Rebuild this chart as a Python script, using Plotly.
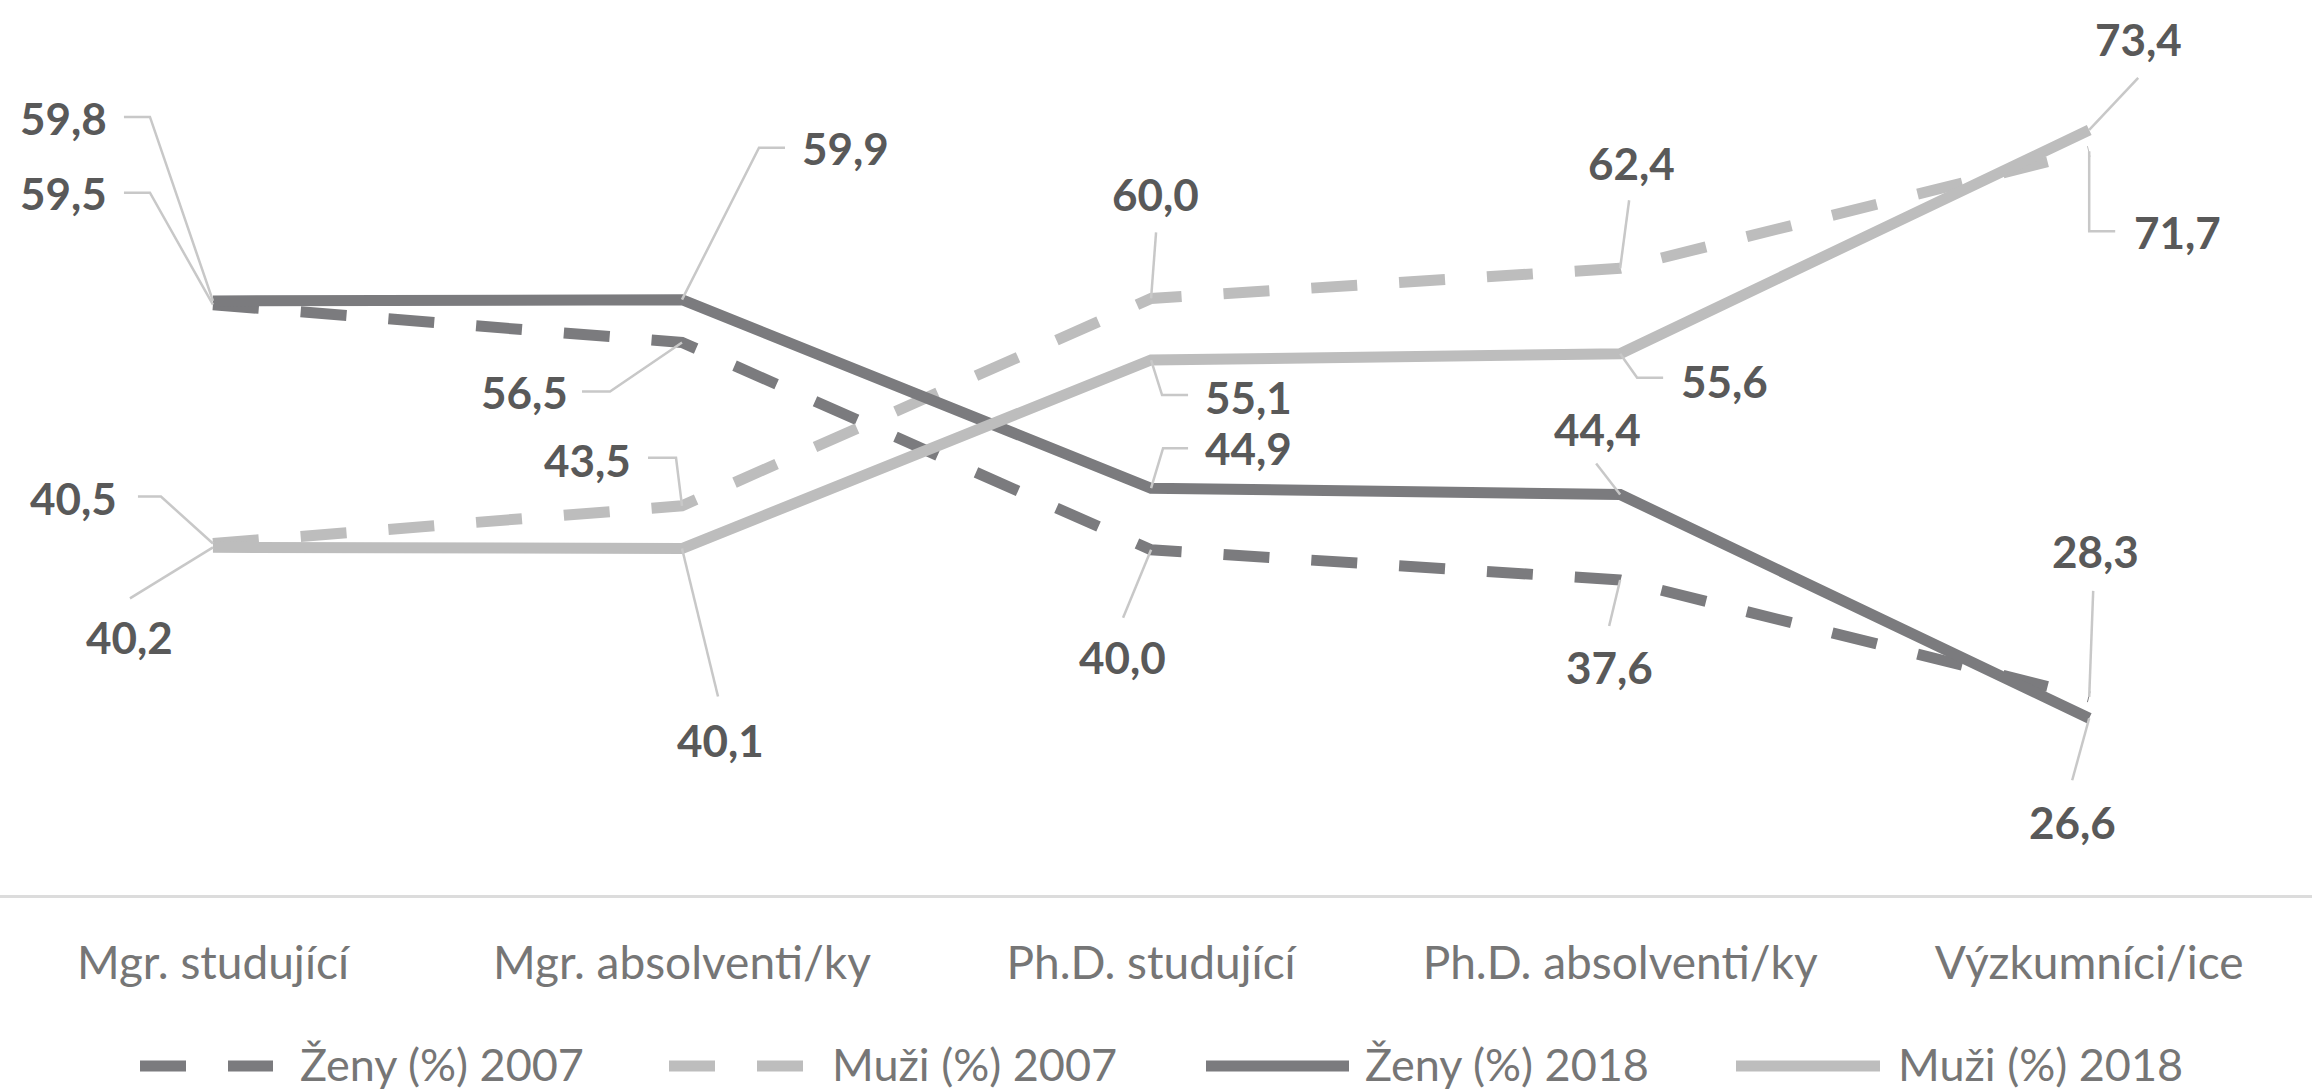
import plotly.graph_objects as go

# --- data -------------------------------------------------------------
categories = ["Mgr. studující", "Mgr. absolventi/ky", "Ph.D. studující",
              "Ph.D. absolventi/ky", "Výzkumníci/ice"]

zeny_2007 = [59.5, 56.5, 40.0, 37.6, 28.3]
muzi_2007 = [40.5, 43.5, 60.0, 62.4, 71.7]
zeny_2018 = [59.8, 59.9, 44.9, 44.4, 26.6]
muzi_2018 = [40.2, 40.1, 55.1, 55.6, 73.4]

series_names = ["Ženy (%) 2007", "Muži (%) 2007", "Ženy (%) 2018", "Muži (%) 2018"]

# --- styling ----------------------------------------------------------
DARK = "#7b7b7e"
LIGHT = "#bdbdbd"
LEADER = "#c8c8c8"
LABEL_COLOR = "#595959"
AXIS_TEXT = "#767676"
FONT = "Lato"
LINE_W = 11
DASH = "46px,42px"

W, H = 2312, 1092
MARGIN_B = 197
PLOT_H = H - MARGIN_B

series = [
    (series_names[0], zeny_2007, DARK, DASH),
    (series_names[1], muzi_2007, LIGHT, DASH),
    (series_names[2], zeny_2018, DARK, "solid"),
    (series_names[3], muzi_2018, LIGHT, "solid"),
]

# Data-label placement per series and category: label centre offset (dx, dy)
# in screen pixels from the point, and the leader-line vertices (screen px,
# relative to the point, y pointing down).
label_layout = {
    0: [  # Ženy 2007
        ((-149, -112), [(-63, -112), (-89, -112)]),
        ((-158, 50), [(-72, 49), (-100, 49)]),
        ((-29, 107), [(-28, 68)]),
        ((-11, 87), [(-11, 46)]),
        ((6, -146), [(4, -106)]),
    ],
    1: [  # Muži 2007
        ((-139, -46), [(-52, -47), (-75, -47)]),
        ((-95, -46), [(-6, -48), (-34, -48)]),
        ((4, -104), [(5, -66)]),
        ((11, -105), [(9, -68)]),
        ((88, 81), [(0, 80), (26, 80)]),
    ],
    2: [  # Ženy 2018
        ((-149, -183), [(-63, -184), (-89, -184)]),
        ((163, -152), [(77, -152), (103, -152)]),
        ((97, -40), [(12, -40), (37, -40)]),
        ((-23, -66), [(-24, -31)]),
        ((-17, 104), [(-17, 62)]),
    ],
    3: [  # Muži 2018
        ((-83, 90), [(-83, 51)]),
        ((38, 191), [(36, 148)]),
        ((97, 37), [(11, 35), (37, 35)]),
        ((104, 27), [(17, 24), (43, 24)]),
        ((49, -91), [(49, -52)]),
    ],
}

x_idx = list(range(len(categories)))

fig = go.Figure()
for name, vals, color, dash in series:
    fig.add_trace(go.Scatter(
        x=x_idx, y=vals, name=name, mode="lines",
        line=dict(color=color, width=LINE_W, dash=dash),
        showlegend=False, hoverinfo="skip",
    ))

annotations = []
shapes = []


def fmt(v):
    return f"{v:.1f}".replace(".", ",")


for s_i, (name, vals, color, dash) in enumerate(series):
    for c_i, v in enumerate(vals):
        (ldx, ldy), leader = label_layout[s_i][c_i]
        annotations.append(dict(
            x=c_i, y=v, xref="x", yref="y", text=fmt(v), showarrow=False,
            xshift=ldx, yshift=-ldy, xanchor="center", yanchor="middle",
            font=dict(family=FONT, size=44, color=LABEL_COLOR, weight="bold"),
        ))
        path = "M0,0" + "".join(f" L{px},{-py}" for px, py in leader)
        shapes.append(dict(
            type="path", xref="x", yref="y", xsizemode="pixel", ysizemode="pixel",
            xanchor=c_i, yanchor=v, path=path,
            line=dict(color=LEADER, width=2.5), layer="above",
        ))

# --- legend row (drawn in paper coordinates) --------------------------
LEG_Y = 1064


def px_x(px):
    return px / W


def px_y(py):
    return (PLOT_H - py) / PLOT_H


legend_items = [
    (series_names[0], DARK, DASH, 140, 273, 298),
    (series_names[1], LIGHT, DASH, 669, 803, 830),
    (series_names[2], DARK, "solid", 1206, 1349, 1363),
    (series_names[3], LIGHT, "solid", 1736, 1880, 1896),
]
for text, color, dash, x0, x1, tx in legend_items:
    shapes.append(dict(
        type="line", xref="paper", yref="paper",
        x0=px_x(x0), x1=px_x(x1), y0=px_y(LEG_Y + 2), y1=px_y(LEG_Y + 2),
        line=dict(color=color, width=LINE_W, dash=dash),
    ))
    annotations.append(dict(
        x=px_x(tx), y=px_y(LEG_Y), xref="paper", yref="paper", text=text,
        showarrow=False, xanchor="left", yanchor="middle",
        font=dict(family=FONT, size=45, color=AXIS_TEXT),
    ))

fig.update_layout(
    width=W, height=H,
    margin=dict(l=0, r=0, t=0, b=MARGIN_B, pad=0),
    paper_bgcolor="white", plot_bgcolor="white",
    showlegend=False,
    xaxis=dict(
        range=[-0.454, 4.475], tickmode="array", tickvals=x_idx, ticktext=categories,
        showgrid=False, zeroline=False, showline=True, linecolor="#dcdcdc", linewidth=3,
        ticks="", tickfont=dict(family=FONT, size=46, color=AXIS_TEXT),
        ticklabelstandoff=26, fixedrange=True,
    ),
    yaxis=dict(range=[12.54, 83.74], visible=False, fixedrange=True),
    annotations=annotations,
    shapes=shapes,
)

fig.write_html("out.html")
